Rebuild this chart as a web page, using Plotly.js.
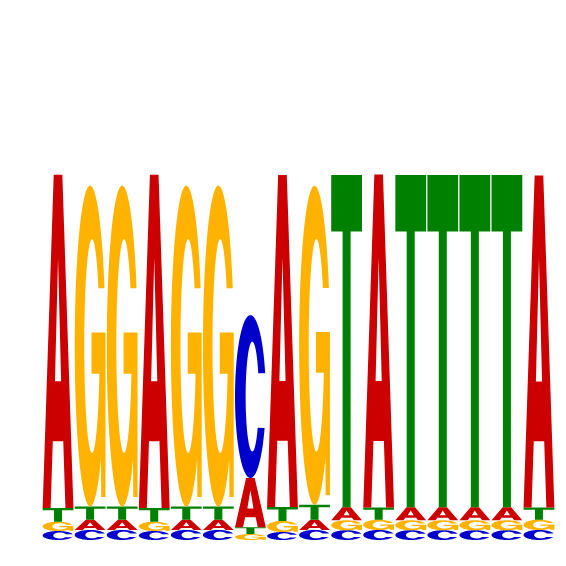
<!DOCTYPE html>
<html>
<head>
<meta charset="utf-8">
<script src="https://cdn.plot.ly/plotly-3.0.1.min.js"></script>
<style>
html, body { margin: 0; padding: 0; background: #fff; }
#logo { width: 566px; height: 566px; }
</style>
</head>
<body>
<div id="logo"></div>
<script>
// motif positions
const positions = [1, 2, 3, 4, 5, 6, 7, 8, 9, 10, 11, 12, 13, 14, 15, 16];
// letter heights (bits) per position
const bitsA = [1.296, 0.040, 0.040, 1.296, 0.040, 0.040, 0.191, 1.292, 0.040, 0.050, 1.296, 0.050, 0.050, 0.050, 0.050, 1.292];
const bitsC = [0.035, 0.039, 0.039, 0.035, 0.039, 0.039, 0.634, 0.031, 0.039, 0.038, 0.039, 0.038, 0.038, 0.038, 0.038, 0.039];
const bitsG = [0.036, 1.249, 1.249, 0.036, 1.249, 1.249, 0.023, 0.043, 1.241, 0.039, 0.040, 0.039, 0.039, 0.039, 0.039, 0.040];
const bitsT = [0.054, 0.051, 0.051, 0.054, 0.051, 0.051, 0.027, 0.054, 0.058, 1.293, 0.047, 1.293, 1.293, 1.293, 1.293, 0.047];

const baseColors = { A: '#CC0000', C: '#0000CC', G: '#FFB300', T: '#008000' };
const letterWidth = 0.96;

// point on an ellipse, angle in degrees (unit glyph box, y up)
function ell(cx, cy, rx, ry, deg) {
    const r = deg * Math.PI / 180;
    return [cx + rx * Math.cos(r), cy + ry * Math.sin(r)];
}

function arc(cx, cy, rx, ry, from, to) {
    const pts = [];
    const n = Math.max(8, Math.ceil(Math.abs(to - from) / 3));
    for (let i = 0; i <= n; i++) {
        pts.push(ell(cx, cy, rx, ry, from + (to - from) * i / n));
    }
    return pts;
}

// glyph outlines in a 0..1 box, list of closed polygons
function glyph(letter) {
    if (letter === 'A') {
        return [
            [[0, 0], [0.36, 1], [0.64, 1], [1, 0], [0.74, 0], [0.67, 0.2], [0.33, 0.2], [0.26, 0]],
            [[0.40, 0.38], [0.60, 0.38], [0.5, 0.75]]
        ];
    }
    if (letter === 'T') {
        return [[[0, 1], [1, 1], [1, 0.83], [0.63, 0.83], [0.63, 0], [0.37, 0], [0.37, 0.83], [0, 0.83]]];
    }
    if (letter === 'C') {
        // outer bowl then inner counter back, open on the right
        const outer = arc(0.5, 0.5, 0.5, 0.5, 16.7, 337.3);
        const inner = arc(0.56, 0.5, 0.215, 0.337, 325.4, 25.3);
        return [outer.concat(inner)];
    }
    // G
    const outer = arc(0.5, 0.5, 0.5, 0.5, 21.1, 315);
    const spur = [[0.86, 0.03], [1, 0.03], [1, 0.542], [0.546, 0.542], [0.546, 0.414], [0.80, 0.414]];
    const inner = arc(0.56, 0.5, 0.25, 0.333, 345, 32.7);
    return [outer.concat(spur, inner)];
}

// builds a shape path for one letter scaled into its data box
function letterShape(letter, xc, y0, h) {
    let d = '';
    glyph(letter).forEach(function(poly) {
        poly.forEach(function(p, i) {
            const x = xc + (p[0] - 0.5) * letterWidth;
            const y = y0 + p[1] * h;
            d += (i === 0 ? 'M' : 'L') + x.toFixed(4) + ',' + y.toFixed(5);
        });
        d += 'Z';
    });
    return {
        type: 'path',
        xref: 'x',
        yref: 'y',
        path: d,
        fillcolor: baseColors[letter],
        fillrule: 'evenodd',
        line: { width: 0 },
        layer: 'above'
    };
}

const shapes = [];
const totals = [];
positions.forEach(function(pos, i) {
    // smallest at the bottom, tallest on top
    const stack = [
        ['C', bitsC[i]], ['G', bitsG[i]], ['A', bitsA[i]], ['T', bitsT[i]]
    ].sort(function(a, b) { return a[1] - b[1]; });
    let y = 0;
    stack.forEach(function(s) {
        if (s[1] > 0) shapes.push(letterShape(s[0], pos, y, s[1]));
        y += s[1];
    });
    totals.push(y);
});

const anchor = {
    x: positions,
    y: totals,
    mode: 'none',
    hoverinfo: 'skip',
    showlegend: false
};

const layout = {
    width: 566,
    height: 566,
    margin: { l: 42, r: 11, t: 26, b: 26 },
    xaxis: { range: [0.5, 16.5], visible: false, showgrid: false, zeroline: false },
    yaxis: { range: [0, 2], visible: false, showgrid: false, zeroline: false },
    shapes: shapes,
    showlegend: false,
    plot_bgcolor: '#ffffff',
    paper_bgcolor: '#ffffff'
};

Plotly.newPlot('logo', [anchor], layout, { displayModeBar: false, staticPlot: true });
</script>
</body>
</html>
